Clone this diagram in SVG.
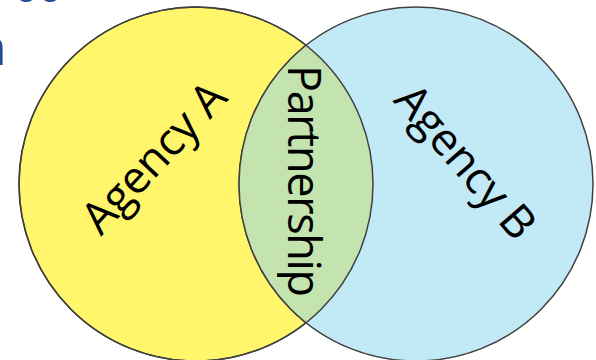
<svg xmlns="http://www.w3.org/2000/svg" width="596" height="360" viewBox="0 0 596 360">
<style>
.circ{stroke:#404040;stroke-width:1.5}
.lbl{font-family:"Open Sans","Liberation Sans",sans-serif;font-size:45px;fill:#000}
.frag{font-family:"Open Sans","Liberation Sans",sans-serif;fill:#1F4E96}
</style>
<defs>
<clipPath id="clipA"><circle cx="196" cy="184" r="177"/></clipPath>
</defs>
<rect width="596" height="360" fill="#fff"/>
<text class="frag" x="14" y="2" font-size="40">oo</text>
<text class="frag" x="-24" y="65" font-size="50">n</text>
<g id="agencyA">
<circle class="circ" cx="196" cy="184" r="177" fill="#FFF66C"/>
</g>
<g id="agencyB">
<circle class="circ" cx="416" cy="184" r="177" fill="#C1E9F6"/>
</g>
<g id="partnership">
<circle cx="416" cy="184" r="177" fill="#C4E4AF" clip-path="url(#clipA)"/>
<circle cx="416" cy="184" r="177" fill="none" stroke="#404040" stroke-width="1.5" clip-path="url(#clipA)"/>
<circle cx="196" cy="184" r="177" fill="none" stroke="#404040" stroke-width="1.5"/>
</g>
<g id="connectors"></g>
<g id="labels">
<text class="lbl" text-anchor="middle" transform="translate(165,168) rotate(-47)" textLength="188">Agency A</text>
<text class="lbl" text-anchor="middle" transform="translate(288,181) rotate(90)" textLength="232">Partnership</text>
<text class="lbl" text-anchor="middle" transform="translate(454,172) rotate(49)" textLength="188">Agency B</text>
</g>
</svg>
